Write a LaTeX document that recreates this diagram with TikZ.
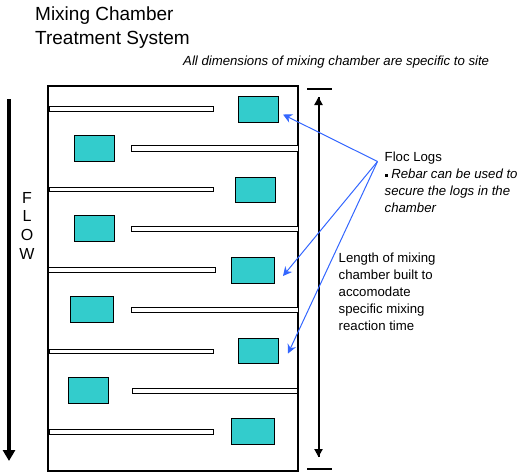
\documentclass[tikz,border=0pt]{standalone}
\usepackage{fontspec}
\setmainfont{Liberation Sans}
\usepackage{xcolor}
\usetikzlibrary{arrows.meta}
\definecolor{mcteal}{RGB}{51,204,204}
\definecolor{mcblue}{RGB}{51,102,255}
\tikzset{
  chamber/.style={draw=black, line width=2pt},
  wall/.style={draw=black, line width=1pt, fill=white},
  floclog/.style={draw=black, line width=1pt, fill=mcteal},
  flow/.style={-{Triangle[length=11pt, width=12pt]}, line width=4pt},
  span/.style={-{Triangle[length=8pt, width=8pt]}, line width=2pt},
  tick/.style={line width=2pt},
  lead/.style={-{Stealth[length=9pt, width=9pt]}, line width=1pt, color=mcblue},
  txt/.style={inner sep=0pt, align=left, anchor=north west, font=\fontsize{13.2}{17}\selectfont},
  ttl/.style={inner sep=0pt, align=left, anchor=north west, font=\fontsize{19}{24}\selectfont},
}
\begin{document}
\begin{tikzpicture}[x=1pt, y=-1pt]
\useasboundingbox (0,0) rectangle (532,472);
\draw[chamber] (48,86) rectangle (298,470.5);
% baffle walls
\foreach \n/\xa/\ya/\xb/\yb in {1/49/106.5/213.5/111, 2/131.5/145.5/298/151, 3/49/187.5/213.5/191.5,
    4/131.5/226.5/298/231.5, 5/48/267.5/215.5/272, 6/131.5/307.5/298/312,
    7/49/349.5/213.5/353, 8/132.5/388.5/297/393, 9/49/429.5/213.5/434}
  \draw[wall] (\xa,\ya) rectangle (\xb,\yb);
% logs
\foreach \n/\xa/\ya/\xb/\yb in {1/238.5/96.5/278.5/122, 2/74.5/135.5/114.5/161.5, 3/235.5/177.5/275.5/202,
    4/74.5/215.5/114.5/241.5, 5/231.5/257.5/274.5/283, 6/70.5/296.5/113.5/322,
    7/238.5/338.5/278.5/363, 8/68.5/377.5/108.5/403, 9/231.5/418.5/274.5/444}
  \draw[floclog] (\xa,\ya) rectangle (\xb,\yb);
\node[ttl] (title) at (35,6.5) {Mixing Chamber\\Treatment System};
\node[txt, font=\fontsize{13.2}{17}\selectfont\itshape] (note) at (183,55.5) {All dimensions of mixing chamber are specific to site};
\node[txt, align=center, anchor=north, font=\fontsize{16}{18.6}\selectfont] (flowtxt) at (27,192) {F\\L\\O\\W};
\node[txt] (floc) at (384.5,151.5) {Floc Logs\\\rule[1.5pt]{3pt}{3pt} \textit{Rebar can be used to}\\\textit{secure the logs in the}\\\textit{chamber}};
\node[txt] (length) at (338.5,252.5) {Length of mixing\\chamber built to\\accomodate\\specific mixing\\reaction time};
% flow and length arrows
\coordinate (flowa) at (9,99);
\coordinate (flowb) at (9,461);
\draw[flow] (flowa) -- (flowb);
\coordinate (spana) at (318.5,97);
\coordinate (spanb) at (318.5,457);
\draw[tick] (307,89) -- (332,89);
\draw[tick] (307,469) -- (332,469);
\draw[span] (spana) -- (spanb);
\draw[span] (spanb) -- (spana);
% leaders to the logs
\coordinate (fork) at (377.5,161.5);
\coordinate (loga) at (283,114.5);
\coordinate (logb) at (283,276);
\coordinate (logc) at (288,353.5);
\draw[lead] (fork) -- (loga);
\draw[lead] (fork) -- (logb);
\draw[lead] (fork) -- (logc);
\end{tikzpicture}
\end{document}
